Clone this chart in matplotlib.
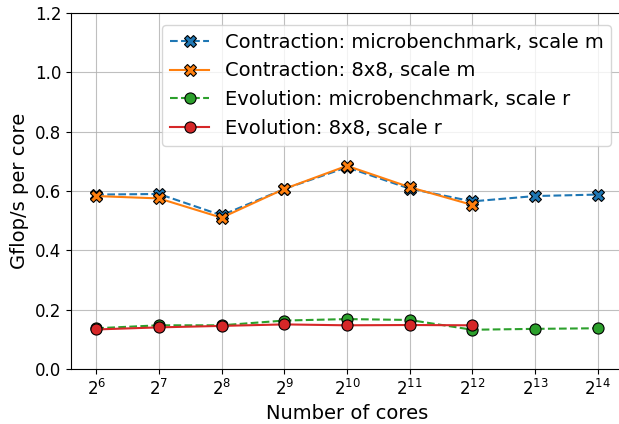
import matplotlib
matplotlib.use("Agg")
import matplotlib.pyplot as plt

exps = [6, 7, 8, 9, 10, 11, 12, 13, 14]
cores = [2**e for e in exps]
contr_micro = [0.588, 0.590, 0.518, 0.607, 0.680, 0.608, 0.565, 0.583, 0.588]
contr_8x8 = [0.583, 0.575, 0.510, 0.607, 0.685, 0.613, 0.553]
evol_micro = [0.137, 0.147, 0.147, 0.163, 0.168, 0.165, 0.132, 0.135, 0.137]
evol_8x8 = [0.133, 0.140, 0.145, 0.150, 0.147, 0.148, 0.147]

fig, ax = plt.subplots(figsize=(6.19, 4.24), dpi=100)
ax.plot(cores, contr_micro, '--', marker='X', color='tab:blue', mec='black', mew=0.8, ms=8,
        label='Contraction: microbenchmark, scale m')
ax.plot(cores[:len(contr_8x8)], contr_8x8, '-', marker='X', color='tab:orange', mec='black', mew=0.8, ms=8,
        label='Contraction: 8x8, scale m')
ax.plot(cores, evol_micro, '--', marker='o', color='tab:green', mec='black', mew=0.8, ms=8,
        label='Evolution: microbenchmark, scale r')
ax.plot(cores[:len(evol_8x8)], evol_8x8, '-', marker='o', color='tab:red', mec='black', mew=0.8, ms=8,
        label='Evolution: 8x8, scale r')
ax.set_xscale('log', base=2)
ax.set_xticks(cores)
ax.set_xticklabels([f'$2^{{{e}}}$' for e in exps])
ax.minorticks_off()
ax.set_ylim(0, 1.2)
ax.set_yticks([0.0, 0.2, 0.4, 0.6, 0.8, 1.0, 1.2])
ax.tick_params(labelsize=12)
ax.grid(True, color='#b0b0b0', alpha=0.8)
ax.set_xlabel('Number of cores', fontsize=14)
ax.set_ylabel('Gflop/s per core', fontsize=14)
ax.legend(fontsize=14, loc='upper right', handlelength=2, borderaxespad=0.6)
fig.subplots_adjust(left=0.115, right=1.006, top=0.969, bottom=0.130)
fig.savefig('out.png', dpi=100)
